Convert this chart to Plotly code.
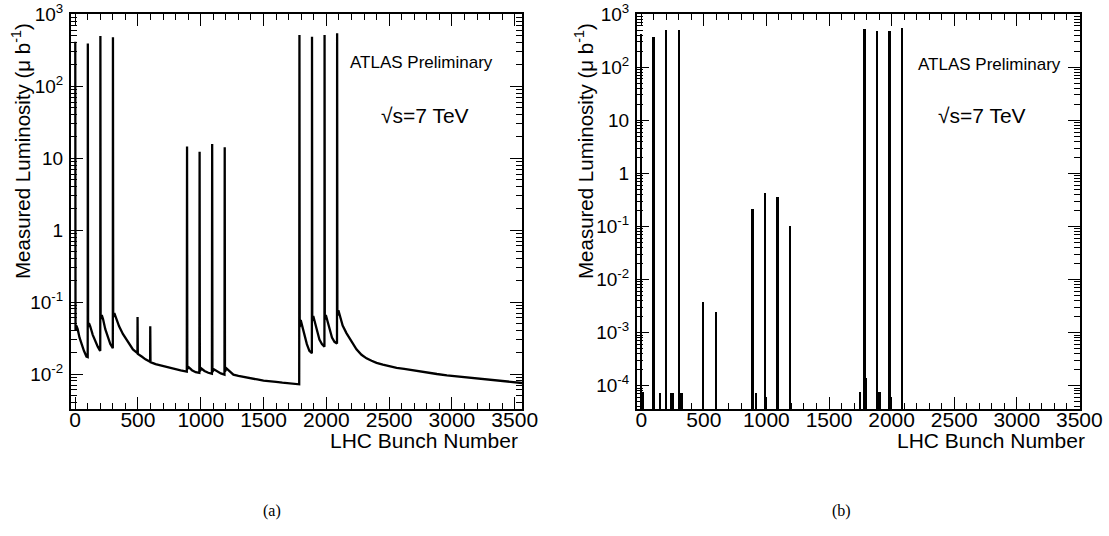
import plotly.graph_objects as go

# ---------------- data ----------------
# Panel (a): measured luminosity per bunch (line, log scale)
bunch_a = [1, 3, 10, 20, 35, 50, 70, 90, 100,
           101, 103, 110, 120, 140, 160, 180, 199, 200,
           201, 203, 212, 222, 240, 260, 280, 299, 300,
           301, 303, 312, 325, 350, 380, 420, 460, 496,
           497, 499, 530, 560, 597, 598, 600, 640, 680, 720, 760, 800, 840, 889,
           891, 893, 905, 930, 960, 989,
           991, 993, 1005, 1030, 1060, 1089,
           1091, 1093, 1105, 1130, 1160, 1189,
           1191, 1193, 1205, 1230, 1260, 1300, 1350, 1400, 1450, 1500, 1550, 1600,
           1650, 1700, 1750, 1784,
           1786, 1788, 1796, 1806, 1825, 1845, 1865, 1885,
           1886, 1888, 1896, 1906, 1925, 1945, 1965, 1985,
           1986, 1988, 1996, 2006, 2025, 2045, 2065, 2085,
           2086, 2088, 2096, 2106, 2130, 2160, 2200, 2240, 2280, 2320, 2360, 2400,
           2450, 2500, 2560, 2620, 2680, 2740, 2800, 2880, 2960, 3040, 3140, 3220,
           3300, 3400, 3480, 3558]
lumi_a = [412, 0.040, 0.047, 0.042, 0.032, 0.026, 0.021, 0.0175, 0.0172,
          390, 0.045, 0.051, 0.046, 0.035, 0.028, 0.024, 0.021, 0.0215,
          494, 0.058, 0.066, 0.058, 0.042, 0.032, 0.026, 0.023, 0.0228,
          475, 0.062, 0.070, 0.060, 0.046, 0.036, 0.028, 0.022, 0.0195,
          0.062, 0.019, 0.0175, 0.016, 0.0148, 0.046, 0.0146, 0.0137, 0.0131, 0.0126,
          0.0121, 0.0116, 0.0112, 0.0108,
          14.4, 0.0118, 0.0124, 0.0113, 0.0106, 0.0104,
          12.2, 0.0110, 0.0119, 0.0110, 0.0104, 0.0101,
          15.6, 0.0107, 0.0116, 0.0108, 0.0102, 0.0098,
          14.1, 0.0108, 0.0120, 0.0108, 0.0098, 0.0094, 0.0090, 0.0086, 0.0084,
          0.0081, 0.0080, 0.0078, 0.0076, 0.0075, 0.0073, 0.0072,
          511, 0.045, 0.056, 0.048, 0.034, 0.026, 0.021, 0.0195,
          484, 0.055, 0.064, 0.055, 0.038, 0.030, 0.026, 0.024,
          511, 0.057, 0.066, 0.057, 0.041, 0.032, 0.028, 0.0265,
          540, 0.065, 0.077, 0.066, 0.047, 0.037, 0.028, 0.022, 0.0185, 0.0165,
          0.0153, 0.0143, 0.0135, 0.0128, 0.0122, 0.0118, 0.0113, 0.0108, 0.0104,
          0.0100, 0.0096, 0.0093, 0.0090, 0.0086, 0.0083, 0.0080, 0.0077, 0.0075]

# Panel (b): after-pulse corrected luminosity (non-empty bunches only)
bunch_b = [1, 12, 101, 151, 201, 245, 257, 301, 322, 497, 601, 891, 921,
           991, 1091, 1191, 1750, 1786, 1793, 1886, 1904, 1986, 2086]
lumi_b = [420, 7.5e-5, 374, 7.3e-5, 500, 7.3e-5, 7.3e-5, 500, 7.3e-5, 3.7e-3,
          2.5e-3, 0.216, 7.3e-5, 0.43, 0.36, 0.10, 7.6e-5, 515, 1.4e-4, 486,
          7.6e-5, 486, 537]

ytick_vals_a = [1e-2, 1e-1, 1, 10, 100, 1000]
ytick_text_a = ["10<sup>-2</sup>", "10<sup>-1</sup>", "1", "10", "10<sup>2</sup>", "10<sup>3</sup>"]
ytick_vals_b = [1e-4, 1e-3, 1e-2, 1e-1, 1, 10, 100, 1000]
ytick_text_b = ["10<sup>-4</sup>", "10<sup>-3</sup>", "10<sup>-2</sup>", "10<sup>-1</sup>",
                "1", "10", "10<sup>2</sup>", "10<sup>3</sup>"]

y_title = "Measured Luminosity (\u03bc b<sup>-1</sup>)"
x_title = "LHC Bunch Number"
atlas_text = "ATLAS Preliminary"
energy_text = "\u221as=7 TeV"
panel_labels = ["(a)", "(b)"]

# ---------------- figure ----------------
W, H = 1109, 536
FONT = "Liberation Sans, Arial, Helvetica, sans-serif"

def px_x(p):
    return p / W

def px_y(p):
    return 1 - p / H

fig = go.Figure()
fig.add_trace(go.Scatter(x=bunch_a, y=lumi_a, mode="lines",
                         line=dict(color="black", width=2.3),
                         xaxis="x", yaxis="y", showlegend=False, hoverinfo="skip"))
fig.add_trace(go.Bar(x=bunch_b, y=lumi_b, width=15,
                     marker=dict(color="black", line=dict(width=0)),
                     xaxis="x2", yaxis="y2", showlegend=False, hoverinfo="skip"))

def minor_log_vals(lo, hi):
    vals = []
    for e in range(lo, hi):
        for m in range(2, 10):
            vals.append(m * 10 ** e)
    return vals

common_x = dict(showline=True, linecolor="black", linewidth=2, mirror="allticks",
                ticks="inside", ticklen=12, tickwidth=1, tickcolor="black",
                tick0=0, dtick=500, showgrid=False, zeroline=False, automargin=False,
                tickfont=dict(family=FONT, size=21, color="black"),
                ticklabelstandoff=-9,
                minor=dict(ticks="inside", ticklen=6, dtick=100, tick0=0,
                           tickcolor="black", tickwidth=1, showgrid=False))
common_y = dict(type="log", showline=True, linecolor="black", linewidth=2,
                mirror="allticks", ticks="inside", ticklen=12, tickwidth=1,
                tickcolor="black", showgrid=False, zeroline=False, automargin=False,
                tickmode="array",
                tickfont=dict(family=FONT, size=19, color="black"),
                ticklabelstandoff=2)

fig.update_layout(
    template="none",
    width=W, height=H, margin=dict(l=0, r=0, t=0, b=0, autoexpand=False),
    paper_bgcolor="white", plot_bgcolor="white",
    bargap=0,
    xaxis=dict(domain=[px_x(71), px_x(522)], range=[-33, 3558], anchor="y", **common_x),
    yaxis=dict(domain=[px_y(409), px_y(14)], range=[-2.486, 3.0005], anchor="x",
               tickvals=ytick_vals_a, ticktext=ytick_text_a,
               minor=dict(ticks="inside", ticklen=6, tickmode="array",
                          tickvals=minor_log_vals(-3, 3), tickcolor="black",
                          tickwidth=1, showgrid=False),
               **common_y),
    xaxis2=dict(domain=[px_x(637), px_x(1080)], range=[-34, 3505], anchor="y2", **common_x),
    yaxis2=dict(domain=[px_y(409), px_y(14)], range=[-4.438, 3.0005], anchor="x2",
                tickvals=ytick_vals_b, ticktext=ytick_text_b,
                minor=dict(ticks="inside", ticklen=6, tickmode="array",
                           tickvals=minor_log_vals(-5, 3), tickcolor="black",
                           tickwidth=1, showgrid=False),
                **common_y),
)

ann = []
# y titles (top-aligned, ROOT style)
for xc in (21, 584):
    ann.append(dict(text=y_title, textangle=-90, x=px_x(xc), y=px_y(21),
                    xref="paper", yref="paper", xanchor="center", yanchor="top",
                    showarrow=False, font=dict(family=FONT, size=20.5, color="black")))
# x titles (right-aligned)
for xr in (520, 1087):
    ann.append(dict(text=x_title, x=px_x(xr), y=px_y(440), xref="paper", yref="paper",
                    xanchor="right", yanchor="middle", showarrow=False,
                    font=dict(family=FONT, size=21, color="black")))
# ATLAS Preliminary
for xc, yc in ((421, 62), (989, 64)):
    ann.append(dict(text=atlas_text, x=px_x(xc), y=px_y(yc), xref="paper", yref="paper",
                    xanchor="center", yanchor="middle", showarrow=False,
                    font=dict(family=FONT, size=17, color="black")))
# sqrt(s)
for xc, yc in ((425, 115), (982, 116)):
    ann.append(dict(text=energy_text, x=px_x(xc), y=px_y(yc), xref="paper", yref="paper",
                    xanchor="center", yanchor="middle", showarrow=False,
                    font=dict(family=FONT, size=21, color="black")))
# panel labels
for lab, xc in zip(panel_labels, (272, 841)):
    ann.append(dict(text=lab, x=px_x(xc), y=px_y(511), xref="paper", yref="paper",
                    xanchor="center", yanchor="middle", showarrow=False,
                    font=dict(family="Liberation Serif, Times New Roman, serif",
                              size=16, color="black")))
fig.update_layout(annotations=ann)

fig.write_html("out.html")
